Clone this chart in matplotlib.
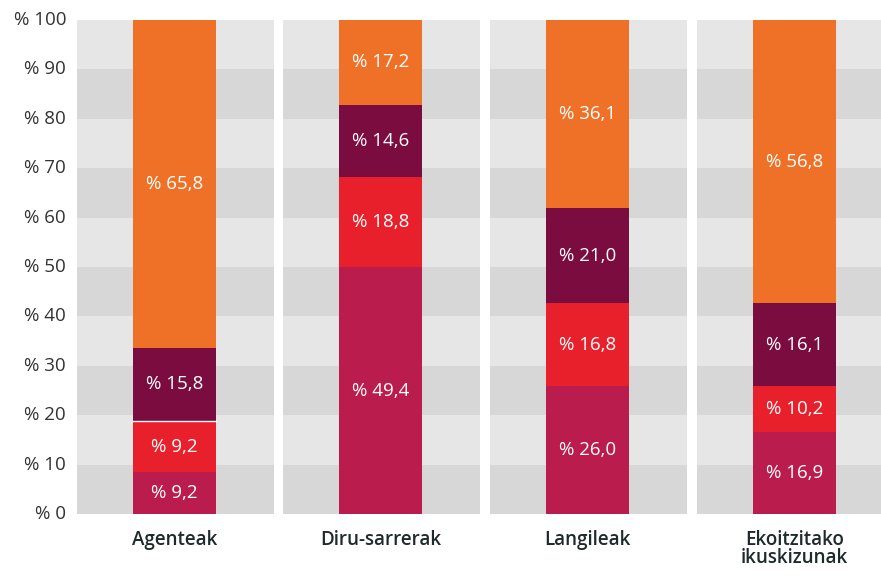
import matplotlib.pyplot as plt

categories = ["Agenteak", "Diru-sarrerak", "Langileak", "Ekoitzitako\nikuskizunak"]
# printed percentages, bottom segment to top segment
labels1 = [9.2, 49.4, 26.0, 16.9]
labels2 = [9.2, 18.8, 16.8, 10.2]
labels3 = [15.8, 14.6, 21.0, 16.1]
labels4 = [65.8, 17.2, 36.1, 56.8]
# drawn segment heights, as they appear in the original graphic
seg1 = [8.5, 50.0, 25.9, 16.6]
seg2 = [10.3, 18.2, 16.8, 9.3]
seg3 = [14.9, 14.6, 19.2, 16.8]
seg4 = [66.3, 17.2, 38.1, 57.3]
yticks = [0, 10, 20, 30, 40, 50, 60, 70, 80, 90, 100]

colors = ["#B91C4D", "#E8202B", "#7B0C3F", "#EF7127"]
W, H = 881, 576

plt.rcParams['font.family'] = ['Open Sans', 'DejaVu Sans']
fig = plt.figure(figsize=(W / 100, H / 100), dpi=100)

panel_left = [77, 283, 490, 697]
panel_w = 197
y0, y1 = 514, 20

for i, cat in enumerate(categories):
    ax = fig.add_axes([panel_left[i] / W, (H - y0) / H, panel_w / W, (y0 - y1) / H])
    for k in range(10):
        ax.axhspan(k * 10, k * 10 + 10, color="#D7D7D7" if k % 2 == 0 else "#E6E6E6", lw=0, zorder=0)
    vals = [seg1[i], seg2[i], seg3[i], seg4[i]]
    labs = [labels1[i], labels2[i], labels3[i], labels4[i]]
    bottom = 0
    for v, lab, c in zip(vals, labs, colors):
        ax.bar(0.495, v, bottom=bottom, width=0.421, color=c, lw=0, zorder=2)
        ax.text(0.495, bottom + v / 2, "% " + f"{lab:.1f}".replace(".", ","),
                ha="center", va="center", color="white", fontsize=13.5, zorder=3)
        bottom += v
    if i == 0:
        # thin white seam visible in the original between 2nd and 3rd segment
        ax.plot([0.495 - 0.2105, 0.495 + 0.2105], [seg1[0] + seg2[0]] * 2, color="white", lw=1, zorder=3)
    ax.set_xlim(0, 1)
    ax.set_ylim(0, 100)
    ax.set_xticks([])
    ax.set_yticks([])
    for s in ax.spines.values():
        s.set_visible(False)
    fig.text((panel_left[i] + 0.495 * panel_w) / W, 1 - 530 / H, cat, ha="center", va="top",
             fontsize=13.5, color="#1F2A2A", fontweight="semibold", linespacing=0.85)
    if i == 0:
        for t in yticks:
            fig.text(66 / W, (H - (y0 - t / 100 * (y0 - y1))) / H, "% " + str(t),
                     ha="right", va="center", fontsize=13.5, color="#333")

fig.savefig("out.png", dpi=100)
